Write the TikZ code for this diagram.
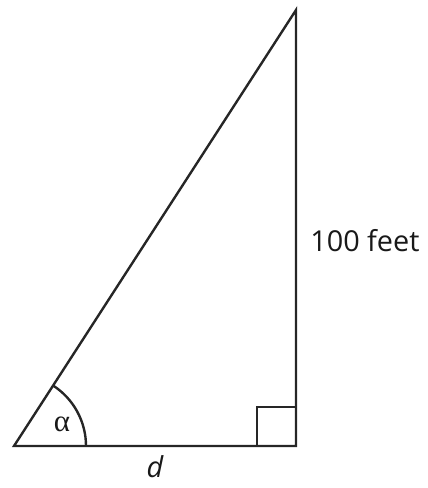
\documentclass[tikz,border=0pt]{standalone}
\usepackage{fontspec}
\setmainfont{Open Sans}
\newfontfamily\greekfont{Liberation Serif}
\usetikzlibrary{positioning}

\begin{document}
\begin{tikzpicture}[
  x=0.025cm, y=-0.025cm,
  side/.style={line width=1.7pt, line join=miter, black!85},
  lbl/.style={font=\fontsize{20.5}{24}\selectfont, text=black!90, inner sep=0pt}
]
  \useasboundingbox (0,0) rectangle (428,488);

  % corners of the triangle
  \coordinate (A) at (14,446);
  \coordinate (B) at (296,446);
  \coordinate (C) at (296,10);

  \draw[side] (A) -- (B) -- (C) -- cycle;

  % right angle mark
  \draw[side] (257,446) -- (257,407) -- (296,407);

  % angle at A
  \draw[side] (86,446) arc[start angle=0, end angle={-atan2(436,282)}, radius=72];

  \node[lbl] (alpha) at (62,424) {\fontsize{22}{24}\selectfont\greekfont α};
  \node[lbl, anchor=west] (height) at (310,241) {100 feet};
  \node[lbl] (base) at (155,467) {\itshape d};
\end{tikzpicture}
\end{document}
